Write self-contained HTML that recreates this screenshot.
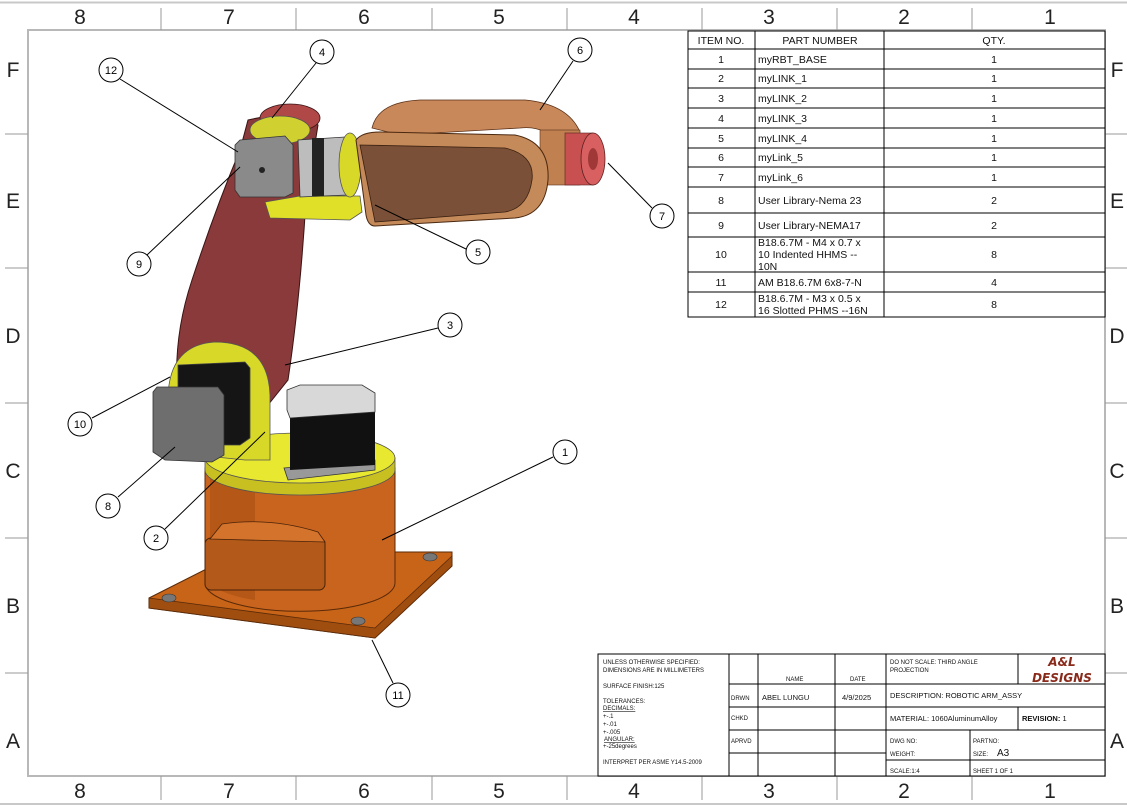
<!DOCTYPE html>
<html><head><meta charset="utf-8"><style>
html,body{margin:0;padding:0;background:#fff;}
svg{display:block;font-family:"Liberation Sans",sans-serif;}
</style></head><body>
<svg width="1127" height="807" viewBox="0 0 1127 807" xmlns="http://www.w3.org/2000/svg">
<rect width="1127" height="807" fill="#fff"/>
<line x1="0" y1="2.5" x2="1127" y2="2.5" stroke="#c8c8c8" stroke-width="2"/>
<line x1="0" y1="804" x2="1127" y2="804" stroke="#c8c8c8" stroke-width="2"/>
<rect x="28" y="30" width="1077" height="746" fill="none" stroke="#b8b8b8" stroke-width="2"/>
<g stroke="#999" stroke-width="1">
<line x1="161" y1="8" x2="161" y2="30"/><line x1="296" y1="8" x2="296" y2="30"/><line x1="432" y1="8" x2="432" y2="30"/><line x1="567" y1="8" x2="567" y2="30"/><line x1="702" y1="8" x2="702" y2="30"/><line x1="837" y1="8" x2="837" y2="30"/><line x1="972" y1="8" x2="972" y2="30"/>
<line x1="161" y1="776" x2="161" y2="800"/><line x1="296" y1="776" x2="296" y2="800"/><line x1="432" y1="776" x2="432" y2="800"/><line x1="567" y1="776" x2="567" y2="800"/><line x1="702" y1="776" x2="702" y2="800"/><line x1="837" y1="776" x2="837" y2="800"/><line x1="972" y1="776" x2="972" y2="800"/>
<line x1="5" y1="134" x2="28" y2="134"/><line x1="5" y1="268" x2="28" y2="268"/><line x1="5" y1="403" x2="28" y2="403"/><line x1="5" y1="538" x2="28" y2="538"/><line x1="5" y1="673" x2="28" y2="673"/>
<line x1="1105" y1="134" x2="1127" y2="134"/><line x1="1105" y1="268" x2="1127" y2="268"/><line x1="1105" y1="403" x2="1127" y2="403"/><line x1="1105" y1="538" x2="1127" y2="538"/><line x1="1105" y1="673" x2="1127" y2="673"/>
</g>
<g font-size="21" fill="#222" text-anchor="middle">
<text x="80" y="24">8</text><text x="229" y="24">7</text><text x="364" y="24">6</text><text x="499" y="24">5</text><text x="634" y="24">4</text><text x="769" y="24">3</text><text x="904" y="24">2</text><text x="1050" y="24">1</text>
<text x="80" y="798">8</text><text x="229" y="798">7</text><text x="364" y="798">6</text><text x="499" y="798">5</text><text x="634" y="798">4</text><text x="769" y="798">3</text><text x="904" y="798">2</text><text x="1050" y="798">1</text>
<text x="13" y="77">F</text><text x="13" y="208">E</text><text x="13" y="343">D</text><text x="13" y="478">C</text><text x="13" y="613">B</text><text x="13" y="748">A</text>
<text x="1117" y="77">F</text><text x="1117" y="208">E</text><text x="1117" y="343">D</text><text x="1117" y="478">C</text><text x="1117" y="613">B</text><text x="1117" y="748">A</text>
</g>

<polygon points="149,598 240,552 452,552 452,566 375,638 149,608" fill="#c86418" stroke="#5a2a08" stroke-width="1"/>
<polygon points="149,598 375,628 452,556 452,566 375,638 149,608" fill="#a04e10" stroke="#5a2a08" stroke-width="0.8"/>
<g fill="#777" stroke="#333" stroke-width="0.6">
<ellipse cx="169" cy="598" rx="7" ry="4"/><ellipse cx="430" cy="557" rx="7" ry="4"/><ellipse cx="358" cy="621" rx="7" ry="4"/><ellipse cx="245" cy="556" rx="6" ry="3"/></g>
<path d="M205,468 L205,583 A94,28 0 0 0 395,583 L395,468 Z" fill="#c8641e" stroke="#5a2a08" stroke-width="1"/>
<path d="M210,470 L210,580 A90,24 0 0 0 255,600 L255,470Z" fill="#b55716"/>
<rect x="205" y="538" width="120" height="52" rx="6" fill="#b35a1a" stroke="#4a2208"/>
<path d="M222,524 Q270,517 318,532 L325,542 L210,539Z" fill="#d4742c" stroke="#4a2208" stroke-width="0.8"/>
<path d="M205,458 L205,470 A95,25 0 0 0 395,470 L395,458Z" fill="#c8c020" stroke="#555" stroke-width="0.8"/>
<ellipse cx="300" cy="458" rx="95" ry="25" fill="#e8e830" stroke="#555" stroke-width="0.8"/>
<polygon points="284,468 375,460 375,470 288,480" fill="#999" stroke="#333" stroke-width="0.8"/>
<polygon points="290,410 375,404 375,465 290,470" fill="#111"/>
<polygon points="287,390 300,385 362,385 375,393 375,412 290,418 287,410" fill="#d8d8d8" stroke="#333" stroke-width="0.8"/>
<path d="M248,120 Q300,108 318,125 L306,200 Q300,300 288,380 L268,405 L178,400 Q172,340 192,280 Q215,210 240,150 Z" fill="#8a3a3a" stroke="#3a1414" stroke-width="1"/>
<path d="M168,400 Q168,345 215,342 Q268,342 270,395 L270,460 L245,460 L168,452Z" fill="#d8d828" stroke="#555" stroke-width="0.8"/>
<polygon points="178,365 245,362 250,368 250,438 240,445 178,445" fill="#151515" stroke="#444" stroke-width="0.8"/>
<polygon points="157,387 218,387 224,395 224,455 212,462 165,460 153,452 153,392" fill="#6e6e6e" stroke="#333" stroke-width="0.8"/>
<ellipse cx="290" cy="118" rx="30" ry="14" fill="#b04848" stroke="#3a1414" stroke-width="0.8"/>
<ellipse cx="280" cy="130" rx="30" ry="14" fill="#d0d030" stroke="#555" stroke-width="0.8"/>
<polygon points="265,202 300,196 360,196 362,212 350,220 270,218" fill="#e0e028" stroke="#555" stroke-width="0.8"/>
<polygon points="240,140 285,136 293,145 293,193 285,197 240,197 235,190 235,145" fill="#8a8a8a" stroke="#333" stroke-width="0.8"/>
<circle cx="262" cy="170" r="3" fill="#222"/>
<polygon points="298,140 345,137 347,195 300,197" fill="#bdbdbd" stroke="#333" stroke-width="0.8"/>
<rect x="312" y="138" width="12" height="58" fill="#222"/>
<ellipse cx="350" cy="165" rx="11" ry="32" fill="#d8d828" stroke="#555" stroke-width="0.8"/>
<path d="M372,128 Q378,102 420,100 L525,100 Q568,104 580,132 L560,145 Q545,125 520,128 L400,135 Z" fill="#c8885a" stroke="#5a3018" stroke-width="0.8"/>
<rect x="540" y="130" width="40" height="55" fill="#c08050" stroke="#5a3018" stroke-width="0.6"/>
<rect x="565" y="133" width="28" height="52" fill="#c85050" stroke="#5a2020" stroke-width="0.6"/>
<ellipse cx="593" cy="159" rx="12" ry="26" fill="#d86060" stroke="#5a2020" stroke-width="0.8"/>
<ellipse cx="593" cy="159" rx="5" ry="11" fill="#a03838"/>
<path d="M356,140 Q362,132 380,132 L515,135 Q550,142 548,180 Q545,215 515,218 L375,226 Q368,226 366,215 Z" fill="#c48a5a" stroke="#4a2810" stroke-width="1"/>
<path d="M360,145 L505,148 Q535,155 532,180 Q528,208 505,212 L375,222 Z" fill="#7a5038" stroke="#3a2010" stroke-width="0.8"/>

<g stroke="#000" stroke-width="1" fill="none">
<line x1="120" y1="79" x2="238" y2="152"/>
<line x1="316" y1="63" x2="272" y2="118"/>
<line x1="573" y1="61" x2="540" y2="110"/>
<line x1="652" y1="208" x2="608" y2="163"/>
<line x1="466" y1="249" x2="375" y2="205"/>
<line x1="147" y1="255" x2="240" y2="167"/>
<line x1="438" y1="328" x2="285" y2="365"/>
<line x1="92" y1="418" x2="170" y2="377"/>
<line x1="118" y1="497" x2="175" y2="447"/>
<line x1="553" y1="457" x2="382" y2="540"/>
<line x1="165" y1="529" x2="265" y2="432"/>
<line x1="393" y1="683" x2="372" y2="640"/>
</g>
<g fill="#fff" stroke="#000" stroke-width="1">
<circle cx="111" cy="70" r="12"/><circle cx="322" cy="52" r="12"/><circle cx="580" cy="50" r="12"/><circle cx="662" cy="216" r="12"/><circle cx="478" cy="252" r="12"/><circle cx="139" cy="264" r="12"/><circle cx="450" cy="325" r="12"/><circle cx="80" cy="424" r="12"/><circle cx="108" cy="506" r="12"/><circle cx="565" cy="452" r="12"/><circle cx="156" cy="538" r="12"/><circle cx="398" cy="695" r="12"/>
</g>
<g font-size="11" text-anchor="middle" fill="#000">
<text x="111" y="74">12</text><text x="322" y="56">4</text><text x="580" y="54">6</text><text x="662" y="220">7</text><text x="478" y="256">5</text><text x="139" y="268">9</text><text x="450" y="329">3</text><text x="80" y="428">10</text><text x="108" y="510">8</text><text x="565" y="456">1</text><text x="156" y="542">2</text><text x="398" y="699">11</text>
</g>

<g stroke="#000" stroke-width="1" fill="none">
<rect x="688" y="31" width="417" height="286" fill="#fff"/>
<line x1="755" y1="31" x2="755" y2="317"/><line x1="884" y1="31" x2="884" y2="317"/>
<line x1="688" y1="49" x2="1105" y2="49"/>
<line x1="688" y1="69" x2="1105" y2="69"/><line x1="688" y1="88" x2="1105" y2="88"/><line x1="688" y1="108" x2="1105" y2="108"/><line x1="688" y1="128" x2="1105" y2="128"/><line x1="688" y1="148" x2="1105" y2="148"/><line x1="688" y1="167" x2="1105" y2="167"/><line x1="688" y1="187" x2="1105" y2="187"/><line x1="688" y1="213" x2="1105" y2="213"/><line x1="688" y1="237" x2="1105" y2="237"/><line x1="688" y1="272" x2="1105" y2="272"/><line x1="688" y1="292" x2="1105" y2="292"/>
</g>
<g font-size="10.5" fill="#111">
<g text-anchor="middle">
<text x="721" y="44">ITEM NO.</text><text x="820" y="44">PART NUMBER</text><text x="994" y="44">QTY.</text>
<text x="721" y="63">1</text><text x="721" y="82">2</text><text x="721" y="102">3</text><text x="721" y="122">4</text><text x="721" y="142">5</text><text x="721" y="161">6</text><text x="721" y="181">7</text><text x="721" y="204">8</text><text x="721" y="229">9</text><text x="721" y="258">10</text><text x="721" y="286">11</text><text x="721" y="308">12</text>
<text x="994" y="63">1</text><text x="994" y="82">1</text><text x="994" y="102">1</text><text x="994" y="122">1</text><text x="994" y="142">1</text><text x="994" y="161">1</text><text x="994" y="181">1</text><text x="994" y="204">2</text><text x="994" y="229">2</text><text x="994" y="258">8</text><text x="994" y="286">4</text><text x="994" y="308">8</text>
</g>
<text x="758" y="63">myRBT_BASE</text><text x="758" y="82">myLINK_1</text><text x="758" y="102">myLINK_2</text><text x="758" y="122">myLINK_3</text><text x="758" y="142">myLINK_4</text><text x="758" y="161">myLink_5</text><text x="758" y="181">myLink_6</text><text x="758" y="204">User Library-Nema 23</text><text x="758" y="229">User Library-NEMA17</text>
<text x="758" y="246">B18.6.7M - M4 x 0.7 x</text><text x="758" y="258">10 Indented HHMS --</text><text x="758" y="270">10N</text>
<text x="758" y="286">AM B18.6.7M 6x8-7-N</text>
<text x="758" y="302">B18.6.7M - M3 x 0.5 x</text><text x="758" y="314">16 Slotted PHMS --16N</text>
</g>

<g stroke="#000" stroke-width="1" fill="none">
<rect x="598" y="654" width="507" height="122" fill="#fff"/>
<line x1="729" y1="654" x2="729" y2="776"/>
<line x1="758" y1="654" x2="758" y2="776"/>
<line x1="835" y1="654" x2="835" y2="776"/>
<line x1="886" y1="654" x2="886" y2="776"/>
<line x1="1018" y1="654" x2="1018" y2="684"/>
<line x1="1018" y1="707" x2="1018" y2="730"/>
<line x1="970" y1="730" x2="970" y2="776"/>
<line x1="729" y1="684" x2="1105" y2="684"/>
<line x1="729" y1="707" x2="1105" y2="707"/>
<line x1="729" y1="730" x2="1105" y2="730"/>
<line x1="729" y1="753" x2="886" y2="753"/>
<line x1="886" y1="760" x2="1105" y2="760"/>
</g>
<g font-size="6" fill="#111">
<text x="603" y="664">UNLESS OTHERWISE SPECIFIED:</text>
<text x="603" y="672">DIMENSIONS ARE IN MILLIMETERS</text>
<text x="603" y="688">SURFACE FINISH:125</text>
<text x="603" y="703">TOLERANCES:</text>
<text x="603" y="710" text-decoration="underline">DECIMALS:</text>
<text x="603" y="718">+-.1</text><text x="603" y="726">+-.01</text><text x="603" y="734">+-.005</text>
<text x="604" y="741" text-decoration="underline">ANGULAR:</text>
<text x="603" y="748">+-25degrees</text>
<text x="603" y="764">INTERPRET PER ASME Y14.5-2009</text>
<text x="786" y="681">NAME</text><text x="850" y="681">DATE</text>
<text x="731" y="700">DRWN</text><text x="731" y="720">CHKD</text><text x="731" y="743">APRVD</text>
<text x="890" y="664">DO NOT SCALE: THIRD ANGLE</text><text x="890" y="672">PROJECTION</text>
<text x="890" y="743">DWG NO:</text><text x="973" y="743">PARTNO:</text>
<text x="890" y="756">WEIGHT:</text><text x="973" y="756">SIZE:</text>
<text x="890" y="773">SCALE:1:4</text><text x="973" y="773">SHEET 1 OF 1</text>
</g>
<g font-size="7.5" fill="#111">
<text x="762" y="700">ABEL LUNGU</text><text x="842" y="700">4/9/2025</text>
<text x="890" y="698">DESCRIPTION:  ROBOTIC ARM_ASSY</text>
<text x="890" y="721">MATERIAL:  1060AluminumAlloy</text>
<text x="1022" y="721" font-weight="bold">REVISION: <tspan font-weight="normal">1</tspan></text>
<text x="997" y="756" font-size="10">A3</text>
</g>
<g fill="#8a2a1a" font-style="italic" font-weight="bold" font-size="12" text-anchor="middle" font-family="'DejaVu Sans',sans-serif">
<text x="1062" y="666">A&amp;L</text><text x="1062" y="682">DESIGNS</text>
</g>
</svg>
</body></html>
